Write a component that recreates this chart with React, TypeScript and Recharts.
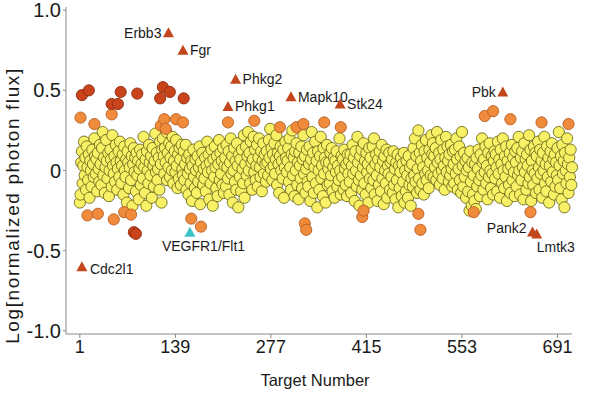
import { ScatterChart, Scatter, XAxis, YAxis, Label } from "recharts";

const targetTicks = [1, 139, 277, 415, 553, 691];
const fluxTicks = [-1, -0.5, 0, 0.5, 1];

// log flux x100, one value per target (1..712)
const bandRows: number[][] = [
  [-20, -15, 5, 12, -8, 3, 18, -3, 8, -12, 15, 2, -6, 10, -17, 6, 0, -10, 13, 4, -4, 20, 9, -2, 7, -13, 11, 1, -7, 16],
  [4, -9, 14, 24, -3, 8, -14, 2, 19, 6, -5, 11, -16, 0, 13, 7, -10, 22, 3, -2, 9, -7, 16, 5, -12, 1, 12, -4, 18, 6],
  [-8, 3, 10, -15, 15, 0, -4, 7, -20, 12, 5, -11, 2, 17, -6, 9, -22, 4, 14, -1, 8, -13, 11, -3, 6, -18, 1, 13, -9, 4],
  [10, -5, 21, 2, -14, 7, -22, 12, 0, -8, 16, 5, -3, 9, -17, 14, 3, -10, 6, 23, -1, 11, -6, 1, 8, -12, 18, 4, -20, 13],
  [20, 9, -2, 14, 5, 24, -6, 11, 2, 17, -4, 8, 15, 0, 21, -8, 6, 12, -1, 19, 3, -11, 10, -5, 14, 7, -9, 16, 1, -3],
  [12, -6, 4, 16, -12, 8, -2, -15, 10, 1, -8, 6, -19, 3, 13, -4, -11, 7, 0, -14, 9, -7, 2, 15, -21, 5, -3, 11, -9, 1],
  [-5, 8, -13, 3, 18, -1, 10, -18, 5, -8, 13, 0, -22, 7, -4, 15, 2, -11, 9, -16, 4, 19, -6, 11, -2, 6, -9, 14, -14, 3],
  [8, -10, 16, 2, -5, 12, -15, 5, 20, -2, 9, -20, 0, 14, -7, 6, -12, 17, 3, -23, 10, -4, 7, -13, 13, 1, -8, 22, -17, 4],
  [15, -3, 9, 24, 0, 11, -8, 18, 5, -12, 7, 21, -1, 13, -6, 3, 16, -10, 8, 20, 2, -4, 12, -13, 6, 17, -2, 10, 4, -7],
  [12, 5, -3, 19, 8, 26, 1, 14, -6, 10, 3, 17, -2, 7, 22, -9, 11, 4, -14, 9, 15, 0, 6, -5, 13, -17, 2, 18, 8, -1],
  [6, 14, -7, 20, 2, -12, 10, 25, -3, 8, -16, 12, 0, 17, -9, 5, -18, 11, 3, -5, 15, -11, 7, 22, -2, 9, -14, 1, 13, -7],
  [-10, 4, 15, -19, 7, 24, -4, 11, -14, 2, 18, -8, 6, -23, 12, 0, -12, 9, 21, -5, 3, -16, 14, -2, 8, -20, 5, 16, -9, 1],
  [5, -8, 11, -3, 14, -13, 2, 8, -17, 6, -1, 12, -10, 3, -6, 20, 0, -15, 9, -4, 7, -12, 13, 1, -9, 4, -16, 10, -2, 6],
  [-7, 10, -14, 3, 16, -2, 8, -19, 12, 0, -10, 21, 5, -6, -22, 9, -3, 13, -12, 2, 17, -8, 6, -15, 11, -1, 4, -20, 14, -5],
  [8, -11, 1, 15, -6, 20, -15, 4, 10, -3, -19, 7, -9, 12, 2, -13, 16, -5, 6, -21, 9, 0, -8, 13, -17, 3, -2, 11, -12, 5],
  [-4, 7, -14, 12, -9, 1, -18, 5, -6, 10, -23, 3, -11, -1, 8, -16, 4, -7, 11, -20, 0, -13, 6, -3, -17, 9, -9, 2, -22, -5],
  [4, -10, 14, -3, 20, -7, 9, -14, 1, 25, -5, 11, -12, 6, 16, -8, 2, -15, 12, -2, 19, -6, 8, 0, -11, 13, 5, -3, 22, 10],
  [17, -4, 9, 2, 14, -6, 24, 5, -2, 11, -9, 7, 19, 0, -5, 13, 3, -12, 8, 21, -1, 15, 6, -7, 10, -3, 16, 1, -10, 12],
  [4, -8, 13, -2, 20, 7, -12, 1, 15, -6, 9, -14, 24, 3, -10, 11, -4, 6, -17, 0, 8, -13, 2, -25, 12, -7, -22, 5, -15, -3],
  [-19, 4, -24, 8, -10, 1, 13, -6, -16, 10, -3, 20, 5, -12, 7, -1, 15, -8, 3, -18, 11, -4, 17, 0, -11, 9, -2, -15, 6, 12],
  [-5, 10, 2, -13, 18, -2, 7, -17, 13, 4, -8, 20, 0, -11, 9, -4, 15, -19, 6, 1, -9, 11, -14, 3, 16, -6, 8, -1, -16, 12],
  [5, -10, 14, -3, 21, 0, -15, 8, -6, 12, 2, -18, 17, -1, 7, -12, 10, 3, -8, 22, -4, 13, -19, 6, 0, -9, 15, -2, 11, -14],
  [9, -5, 18, 2, -12, 13, -2, 6, -17, 11, 0, 21, -8, 4, -13, 15, -4, 8, -20, 3, 12, -7, 17, -1, 7, -15, 10, -10, 5, -3],
  [14, -6, 24, 3, -11, 9, -18, 16, -2, 6, -23, 11, 0, -8, 20, 4, -14, 8, -4, 13, -9, 2],
];

// strong hits (dark)
const strongTargets = [4, 14, 47, 56, 60, 84, 117, 121, 131, 151, 79, 82];
const strongFlux = [0.47, 0.5, 0.415, 0.415, 0.49, 0.48, 0.45, 0.52, 0.49, 0.45, -0.385, -0.395];

// moderate hits (orange)
const moderateTargets = [
  2, 22, 47, 118, 123, 125, 140, 150, 215, 253, 290, 314, 324, 354, 378, 586, 598, 623, 668, 707,
  12, 27, 50, 65, 75, 162, 176, 326, 328, 409, 411, 490, 493, 570, 652,
];
const moderateFlux = [
  0.33, 0.29, 0.35, 0.28, 0.32, 0.26, 0.32, 0.3, 0.3, 0.31, 0.27, 0.27, 0.29, 0.3, 0.27, 0.34, 0.37, 0.32, 0.3, 0.29,
  -0.28, -0.27, -0.305, -0.26, -0.275, -0.3, -0.35, -0.33, -0.37, -0.29, -0.25, -0.27, -0.37, -0.26, -0.26,
];

const hitNames = ["Erbb3", "Fgr", "Phkg2", "Phkg1", "Mapk10", "Stk24", "Pbk", "Pank2", "Lmtk3", "Cdc2l1"];
const hitTargets = [129, 150, 226, 215, 306, 377, 612, 655, 661, 4];
const hitFlux = [0.86, 0.75, 0.57, 0.4, 0.46, 0.415, 0.49, -0.383, -0.396, -0.6];

const vegfrName = ["VEGFR1/Flt1"];
const vegfrTarget = [160];
const vegfrFlux = [-0.385];

const bandData = bandRows.flat().map((v, i) => ({ target: i + 1, flux: v / 100 }));
const strongData = strongTargets.map((t, i) => ({ target: t, flux: strongFlux[i] }));
const moderateData = moderateTargets.map((t, i) => ({ target: t, flux: moderateFlux[i] }));
const hitData = hitNames.map((n, i) => ({ name: n, target: hitTargets[i], flux: hitFlux[i] }));
const vegfrData = vegfrName.map((n, i) => ({ name: n, target: vegfrTarget[i], flux: vegfrFlux[i] }));

// label placement: [dx, dy, anchor]
const labelPlace: Record<string, [number, number, "start" | "end"]> = {
  Erbb3: [-7, 0, "end"],
  Pbk: [-7, 0, "end"],
  Pank2: [-6, -4, "end"],
  Lmtk3: [0, 13, "start"],
  "VEGFR1/Flt1": [-28, 14, "start"],
  Cdc2l1: [8, 2, "start"],
};

const FONT = "'Liberation Sans', Arial, sans-serif";

const dot = (fill: string, stroke: string) => (p: any) => (
  <circle cx={p.cx} cy={p.cy} r={5.6} fill={fill} stroke={stroke} strokeWidth={0.9} />
);

const triangle = (fill: string) => (p: any) => {
  const { cx, cy, payload } = p;
  const [dx, dy, anchor] = labelPlace[payload.name] ?? [7, 0, "start"];
  return (
    <g>
      <polygon points={`${cx},${cy - 5.5} ${cx + 5.5},${cy + 4.5} ${cx - 5.5},${cy + 4.5}`} fill={fill} />
      <text
        x={cx + dx}
        y={cy + dy}
        textAnchor={anchor}
        dominantBaseline="central"
        fontSize={14}
        fontFamily={FONT}
        fill="#1a1a1a"
      >
        {payload.name}
      </text>
    </g>
  );
};

const App = () => {
  return (
    <div style={{ width: 600, height: 402 }}>
      <style>{`body{margin:0}`}</style>
      <ScatterChart width={600} height={402} margin={{ top: 7, right: 28, bottom: 8, left: 0 }}>
        <XAxis
          type="number"
          dataKey="target"
          domain={[-19, 712]}
          ticks={targetTicks}
          interval={0}
          height={60}
          tickSize={4}
          stroke="#888"
          tick={{ fontSize: 18, fill: "#1a1a1a", fontFamily: FONT }}
        >
          <Label
            content={({ viewBox }: any) => (
              <text
                x={viewBox.x + viewBox.width / 2 - 4}
                y={380}
                textAnchor="middle"
                dominantBaseline="central"
                fontSize={16.5}
                fontFamily={FONT}
                fill="#1a1a1a"
              >
                Target Number
              </text>
            )}
          />
        </XAxis>
        <YAxis
          type="number"
          dataKey="flux"
          domain={[-1.02, 1.02]}
          ticks={fluxTicks}
          interval={0}
          width={66}
          tickSize={3}
          stroke="#888"
          tickFormatter={(v: number) => (v === 0 ? "0" : v.toFixed(1))}
          tick={{ fontSize: 20, fill: "#1a1a1a", fontFamily: FONT }}
        >
          <Label
            content={({ viewBox }: any) => {
              const cy = viewBox.y + viewBox.height / 2 + 35;
              return (
                <text
                  x={12}
                  y={cy}
                  transform={`rotate(-90, 12, ${cy})`}
                  textAnchor="middle"
                  dominantBaseline="central"
                  fontSize={19}
                  letterSpacing={1.6}
                  fontFamily={FONT}
                  fill="#1a1a1a"
                >
                  Log[normalized photon flux]
                </text>
              );
            }}
          />
        </YAxis>
        <Scatter data={bandData} shape={dot("#f8f165", "#6e6b1e")} isAnimationActive={false} />
        <Scatter data={moderateData} shape={dot("#f08b3b", "#b85e24")} isAnimationActive={false} />
        <Scatter data={strongData} shape={dot("#c9441b", "#8e2c10")} isAnimationActive={false} />
        <Scatter data={hitData} shape={triangle("#c2461c")} isAnimationActive={false} />
        <Scatter data={vegfrData} shape={triangle("#3ec4c8")} isAnimationActive={false} />
      </ScatterChart>
    </div>
  );
};

export default App;
